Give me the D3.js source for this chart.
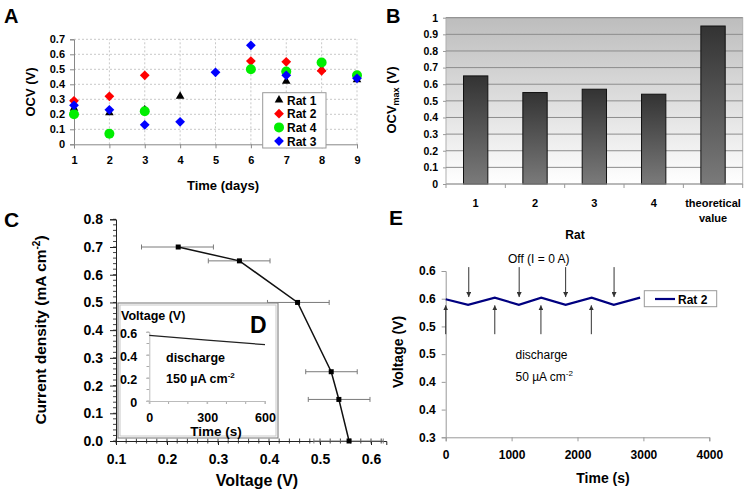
<!DOCTYPE html>
<html>
<head>
<meta charset="utf-8">
<script src="https://cdn.jsdelivr.net/npm/d3@7/dist/d3.min.js"></script>
<style>
  body { margin: 0; background: #fff; }
  svg { display: block; font-family: Arial, "Liberation Sans", sans-serif; }
</style>
</head>
<body>
<svg id="fig" width="747" height="493"></svg>
<script>
// ---- panel A : OCV vs time, per rat ----
const daysA = [1, 2, 3, 4, 5, 6, 7, 8, 9]
const ticksA = [0, 0.1, 0.2, 0.3, 0.4, 0.5, 0.6, 0.7]
const rat1 = [[1, 0.24], [2, 0.21], [3, 0.23], [4, 0.32], [7, 0.42], [8, 0.50], [9, 0.43]]
const rat2 = [[1, 0.29], [2, 0.32], [3, 0.46], [6, 0.555], [7, 0.55], [8, 0.49]]
const rat4 = [[1, 0.20], [2, 0.07], [3, 0.22], [6, 0.50], [7, 0.485], [8, 0.545], [9, 0.46]]
const rat3 = [[1, 0.26], [2, 0.23], [3, 0.13], [4, 0.15], [5, 0.48], [6, 0.66], [7, 0.46], [9, 0.44]]
const legendA = ['Rat 1', 'Rat 2', 'Rat 4', 'Rat 3']

// ---- panel B : max OCV ----
const catsB = ['1', '2', '3', '4', 'theoretical\nvalue']
const ocvMax = [0.65, 0.55, 0.57, 0.54, 0.95]
const ticksB = [0, 0.1, 0.2, 0.3, 0.4, 0.5, 0.6, 0.7, 0.8, 0.9, 1]

// ---- panel C : polarisation curve ----
const voltC = [0.222, 0.342, 0.456, 0.522, 0.537, 0.557]
const currC = [0.70, 0.65, 0.50, 0.25, 0.15, 0.0]
const errLowC = [0.150, 0.281, 0.397, 0.472, 0.477, 0.488]
const errHighC = [0.291, 0.402, 0.518, 0.573, 0.598, 0.624]
const ticksCx = [0.1, 0.2, 0.3, 0.4, 0.5, 0.6]
const ticksCy = [0, 0.1, 0.2, 0.3, 0.4, 0.5, 0.6, 0.7, 0.8]

// ---- panel D (inset) : discharge at 150 uA cm-2 ----
const timeD = [0, 300, 600]
const voltD = [0.57, 0.53, 0.49]
const ticksDx = [0, 300, 600]
const ticksDy = [0, 0.2, 0.4, 0.6]

// ---- panel E : on/off cycling ----
const timeE = [0, 340, 745, 1110, 1450, 1820, 2215, 2550, 2950]
const voltE = [0.549, 0.539, 0.552, 0.539, 0.552, 0.539, 0.552, 0.539, 0.552]
const offTimes = [350, 1115, 1820, 2555]
const onTimes = [0, 745, 1445, 2210]
const ticksEx = [0, 1000, 2000, 3000, 4000]
const ticksEy = [0.3, 0.35, 0.4, 0.45, 0.5, 0.55, 0.6]
const tickLabelsEy = ['0.3', '0.4', '0.4', '0.5', '0.5', '0.6', '0.6']

const svg = d3.select('#fig')
const defs = svg.append('defs')

function label(g, x, y, txt, size, opts = {}) {
    return g.append('text')
        .attr('x', x).attr('y', y)
        .attr('font-size', size)
        .attr('font-weight', opts.weight || 'bold')
        .attr('text-anchor', opts.anchor || 'start')
        .attr('fill', opts.fill || '#000')
        .text(txt)
}

function styleAxis(g, color, size) {
    g.select('.domain').attr('stroke', color)
    g.selectAll('.tick line').attr('stroke', color)
    g.selectAll('.tick text').attr('font-size', size).attr('font-weight', 'bold')
        .attr('fill', '#000').attr('font-family', 'Arial, Liberation Sans, sans-serif')
}

// panel letters
label(svg, 4, 23, 'A', 20)
label(svg, 386, 23, 'B', 20)
label(svg, 4, 227, 'C', 21)
label(svg, 389, 225, 'E', 21)

// ================= A =================
{
    const x = d3.scaleLinear().domain([1, 9]).range([74, 357])
    const y = d3.scaleLinear().domain([0, 0.7]).range([144.3, 39.3])
    const g = svg.append('g')

    g.selectAll('.hg').data(ticksA.slice(1)).join('line')
        .attr('x1', x(1)).attr('x2', x(9))
        .attr('y1', d => y(d)).attr('y2', d => y(d))
        .attr('stroke', '#c8c8c8').attr('stroke-dasharray', '2,2')
    g.selectAll('.vg').data(daysA.slice(1)).join('line')
        .attr('x1', d => x(d)).attr('x2', d => x(d))
        .attr('y1', y(0)).attr('y2', y(0.7))
        .attr('stroke', '#c8c8c8').attr('stroke-dasharray', '2,2')

    const ax = g.append('g').attr('transform', `translate(0,${y(0)})`)
        .call(d3.axisBottom(x).tickValues(daysA).tickFormat(d3.format('d')).tickSize(4).tickPadding(8))
    styleAxis(ax, '#888', 11)
    const ay = g.append('g').attr('transform', `translate(${x(1)},0)`)
        .call(d3.axisLeft(y).tickValues(ticksA).tickFormat(d3.format('.1~f')).tickSize(4).tickPadding(5))
    styleAxis(ay, '#888', 11)

    const tri = d3.symbol(d3.symbolTriangle, 32)()
    const dia = d3.symbol(d3.symbolSquare, 48)()
    const series = [
        { data: rat1, color: '#000', shape: 'tri' },
        { data: rat2, color: '#ff0000', shape: 'dia' },
        { data: rat4, color: '#00ee00', shape: 'circ' },
        { data: rat3, color: '#0000ff', shape: 'dia' },
    ]
    series.forEach(s => {
        if (s.shape == 'circ') {
            g.selectAll(null).data(s.data).join('circle')
                .attr('cx', d => x(d[0])).attr('cy', d => y(d[1])).attr('r', 5)
                .attr('fill', s.color)
        } else {
            g.selectAll(null).data(s.data).join('path')
                .attr('d', s.shape == 'tri' ? tri : dia)
                .attr('transform', d => `translate(${x(d[0])},${y(d[1])})` + (s.shape == 'dia' ? ' rotate(45)' : ''))
                .attr('fill', s.color)
        }
    })

    // legend
    const lg = g.append('g')
    lg.append('rect').attr('x', 262.7).attr('y', 92.7).attr('width', 63.3).attr('height', 55.3)
        .attr('fill', '#fff').attr('stroke', '#999')
    legendA.forEach((name, i) => {
        const s = series[i]
        const cy = 100 + i * 13.7
        if (s.shape == 'circ') {
            lg.append('circle').attr('cx', 279).attr('cy', cy).attr('r', 5).attr('fill', s.color)
        } else {
            lg.append('path').attr('d', s.shape == 'tri' ? tri : dia)
                .attr('transform', `translate(279,${cy})` + (s.shape == 'dia' ? ' rotate(45)' : ''))
                .attr('fill', s.color)
        }
        label(lg, 287, cy + 4.5, name, 12)
    })

    label(g, 223, 190, 'Time (days)', 13, { anchor: 'middle' })
    label(g, 0, 0, 'OCV (V)', 13, { anchor: 'middle' })
        .attr('transform', 'translate(35,92) rotate(-90)')
}

// ================= B =================
{
    const x = d3.scaleBand().domain(catsB).range([446, 742.7])
    const y = d3.scaleLinear().domain([0, 1]).range([184, 17.7])
    const g = svg.append('g')

    const bg = defs.append('linearGradient').attr('id', 'bgB').attr('x1', 0).attr('y1', 0).attr('x2', 0).attr('y2', 1)
    bg.append('stop').attr('offset', 0).attr('stop-color', '#bdbdbd')
    bg.append('stop').attr('offset', 1).attr('stop-color', '#ffffff')
    const barGrad = defs.append('linearGradient').attr('id', 'barB').attr('x1', 0).attr('y1', 0).attr('x2', 0).attr('y2', 1)
    barGrad.append('stop').attr('offset', 0).attr('stop-color', '#333333')
    barGrad.append('stop').attr('offset', 1).attr('stop-color', '#7a7a7a')

    g.append('rect').attr('x', 446).attr('y', y(1)).attr('width', 742.7 - 446).attr('height', y(0) - y(1))
        .attr('fill', 'url(#bgB)').attr('stroke', '#b0b0b0')
    g.selectAll('.grid').data(ticksB.slice(1)).join('line')
        .attr('x1', 446).attr('x2', 742.7)
        .attr('y1', d => y(d)).attr('y2', d => y(d))
        .attr('stroke', '#8c8c8c')

    const bw = x.bandwidth() * 0.41
    g.selectAll('.bar').data(ocvMax).join('rect')
        .attr('x', (d, i) => x(catsB[i]) + x.bandwidth() / 2 - bw / 2)
        .attr('y', d => y(d))
        .attr('width', bw)
        .attr('height', d => y(0) - y(d))
        .attr('fill', 'url(#barB)').attr('stroke', '#111').attr('stroke-width', 1)

    const ay = g.append('g').attr('transform', 'translate(446,0)')
        .call(d3.axisLeft(y).tickValues(ticksB).tickFormat(d3.format('.1~f')).tickSize(3).tickPadding(5))
    styleAxis(ay, '#999', 10.5)
    ay.select('.domain').remove()

    // category boundary ticks
    const base = g.append('g')
    base.append('line').attr('x1', 446).attr('x2', 742.7).attr('y1', y(0)).attr('y2', y(0)).attr('stroke', '#999')
    base.selectAll(null).data(d3.range(catsB.length + 1)).join('line')
        .attr('x1', i => 446 + i * x.step()).attr('x2', i => 446 + i * x.step())
        .attr('y1', y(0)).attr('y2', y(0) + 4).attr('stroke', '#999')
    catsB.forEach(c => {
        c.split('\n').forEach((part, j) => {
            label(g, x(c) + x.bandwidth() / 2, 207 + j * 15, part, 11, { anchor: 'middle' })
        })
    })

    const yl = g.append('text').attr('transform', 'translate(396,100) rotate(-90)')
        .attr('text-anchor', 'middle').attr('font-weight', 'bold').attr('font-size', 13)
    yl.append('tspan').text('OCV')
    yl.append('tspan').attr('font-size', 9).attr('dy', 3).text('max')
    yl.append('tspan').attr('dy', -3).text(' (V)')
}

// ================= C =================
{
    const x = d3.scaleLinear().domain([0.1, 0.63]).range([116, 386.3])
    const y = d3.scaleLinear().domain([0, 0.8]).range([441, 219.3])
    const g = svg.append('g')

    // minor ticks
    g.selectAll('.my').data(d3.range(0, 0.801, 0.02)).join('line')
        .attr('x1', 113).attr('x2', 116).attr('y1', d => y(d)).attr('y2', d => y(d)).attr('stroke', '#444')
    g.selectAll('.mx').data(d3.range(0.1, 0.631, 0.02)).join('line')
        .attr('x1', d => x(d)).attr('x2', d => x(d)).attr('y1', 438.5).attr('y2', 443.5).attr('stroke', '#444')

    const ax = g.append('g').attr('transform', `translate(0,${y(0)})`)
        .call(d3.axisBottom(x).tickValues(ticksCx).tickFormat(d3.format('.1f')).tickSize(4).tickPadding(9))
    styleAxis(ax, '#222', 14)
    const ay = g.append('g').attr('transform', `translate(${x(0.1)},0)`)
        .call(d3.axisLeft(y).tickValues(ticksCy).tickFormat(d3.format('.1f')).tickSize(6).tickPadding(7))
    styleAxis(ay, '#222', 14)

    // error bars
    const eb = g.append('g').attr('stroke', '#7a7a7a').attr('stroke-width', 1)
    voltC.forEach((v, i) => {
        const yy = y(currC[i])
        eb.append('line').attr('x1', x(errLowC[i])).attr('x2', x(errHighC[i])).attr('y1', yy).attr('y2', yy)
        eb.append('line').attr('x1', x(errLowC[i])).attr('x2', x(errLowC[i])).attr('y1', yy - 2.5).attr('y2', yy + 2.5)
        eb.append('line').attr('x1', x(errHighC[i])).attr('x2', x(errHighC[i])).attr('y1', yy - 2.5).attr('y2', yy + 2.5)
    })

    const pts = voltC.map((v, i) => [v, currC[i]])
    g.append('path').datum(pts)
        .attr('d', d3.line().x(d => x(d[0])).y(d => y(d[1])))
        .attr('fill', 'none').attr('stroke', '#111').attr('stroke-width', 1.5)
    g.selectAll('.pt').data(pts).join('rect')
        .attr('x', d => x(d[0]) - 2.5).attr('y', d => y(d[1]) - 2.5)
        .attr('width', 5).attr('height', 5).attr('fill', '#000')

    label(g, 257, 486, 'Voltage (V)', 16, { anchor: 'middle' })
    const yl = g.append('text').attr('transform', 'translate(46,330) rotate(-90)')
        .attr('text-anchor', 'middle').attr('font-weight', 'bold').attr('font-size', 15.5)
    yl.append('tspan').text('Current density (mA cm')
    yl.append('tspan').attr('font-size', 10).attr('dy', -6).text('-2')
    yl.append('tspan').attr('dy', 6).text(')')

    // ---- inset D ----
    const d = svg.append('g')
    d.append('rect').attr('x', 118).attr('y', 303).attr('width', 160).attr('height', 135)
        .attr('fill', '#fff').attr('stroke', '#8a8a8a').attr('stroke-width', 1.2)
    d.append('rect').attr('x', 120).attr('y', 305).attr('width', 156).attr('height', 131)
        .attr('fill', 'none').attr('stroke', '#c8c8c8').attr('stroke-width', 1)
    const dx = d3.scaleLinear().domain([0, 600]).range([149.3, 265])
    const dy = d3.scaleLinear().domain([0, 0.6]).range([401, 332])
    d.selectAll('.dmy').data(d3.range(0, 0.61, 0.1)).join('line')
        .attr('x1', 146.5).attr('x2', 149.3).attr('y1', v => dy(v)).attr('y2', v => dy(v)).attr('stroke', '#aaa')
    d.selectAll('.dmx').data(d3.range(0, 601, 100)).join('line')
        .attr('x1', v => dx(v)).attr('x2', v => dx(v)).attr('y1', 401).attr('y2', 404).attr('stroke', '#aaa')
    const dax = d.append('g').attr('transform', 'translate(0,401)')
        .call(d3.axisBottom(dx).tickValues(ticksDx).tickSize(3).tickPadding(9).tickFormat(d3.format('d')))
    styleAxis(dax, '#bbb', 12.5)
    const day = d.append('g').attr('transform', 'translate(149.3,0)')
        .call(d3.axisLeft(dy).tickValues(ticksDy).tickSize(3).tickPadding(8).tickFormat(d3.format('.1~f')))
    styleAxis(day, '#bbb', 12.5)
    day.selectAll('.tick text').attr('x', -12).attr('text-anchor', 'end').attr('dy', '0.42em')
    d.append('path').datum(timeD.map((t, i) => [t, voltD[i]]))
        .attr('d', d3.line().x(p => dx(p[0])).y(p => dy(p[1])))
        .attr('fill', 'none').attr('stroke', '#222').attr('stroke-width', 1.2)
    label(d, 121, 320, 'Voltage (V)', 12.5)
    label(d, 250, 333, 'D', 23)
    label(d, 166, 362, 'discharge', 12.5)
    const t150 = label(d, 166, 383, '150 µA cm', 12.5)
    t150.append('tspan').attr('font-size', 8).attr('dy', -5).text('-2')
    label(d, 216, 436, 'Time (s)', 13.5, { anchor: 'middle' })
}

// ================= E =================
{
    const x = d3.scaleLinear().domain([0, 4000]).range([445.7, 709.3])
    const y = d3.scaleLinear().domain([0.3, 0.6]).range([437.3, 271])
    const g = svg.append('g')

    const ax = g.append('g').attr('transform', `translate(0,${y(0.3)})`)
        .call(d3.axisBottom(x).tickValues(ticksEx).tickFormat(d3.format('d')).tickSize(4).tickPadding(9))
    styleAxis(ax, '#999', 12)
    const ay = g.append('g').attr('transform', `translate(${x(0)},0)`)
        .call(d3.axisLeft(y).tickValues(ticksEy).tickFormat((d, i) => tickLabelsEy[i]).tickSize(4).tickPadding(6))
    styleAxis(ay, '#999', 12)

    const mk = defs.append('marker').attr('id', 'arr').attr('viewBox', '0 0 8 8')
        .attr('refX', 8).attr('refY', 4).attr('markerWidth', 5).attr('markerHeight', 5)
        .attr('orient', 'auto')
    mk.append('path').attr('d', 'M0,0 L8,4 L0,8 Z').attr('fill', '#333')

    g.selectAll('.off').data(offTimes).join('line')
        .attr('x1', t => x(t)).attr('x2', t => x(t))
        .attr('y1', y(0.607)).attr('y2', y(0.553))
        .attr('stroke', '#333').attr('stroke-width', 1).attr('marker-end', 'url(#arr)')
    g.selectAll('.on').data(onTimes).join('line')
        .attr('x1', t => x(t)).attr('x2', t => x(t))
        .attr('y1', y(0.486)).attr('y2', y(0.538))
        .attr('stroke', '#333').attr('stroke-width', 1).attr('marker-end', 'url(#arr)')

    g.append('path').datum(timeE.map((t, i) => [t, voltE[i]]))
        .attr('d', d3.line().x(p => x(p[0])).y(p => y(p[1])))
        .attr('fill', 'none').attr('stroke', '#000080').attr('stroke-width', 2.2)

    // legend
    g.append('rect').attr('x', 644.3).attr('y', 290.7).attr('width', 72.4).attr('height', 16)
        .attr('fill', '#fff').attr('stroke', '#999')
    g.append('line').attr('x1', 655).attr('x2', 675).attr('y1', 299).attr('y2', 299)
        .attr('stroke', '#000080').attr('stroke-width', 2.2)
    label(g, 678, 303.5, 'Rat 2', 12)

    label(g, 575, 239, 'Rat', 12, { anchor: 'middle' })
    label(g, 508, 262.5, 'Off (I = 0 A)', 12, { weight: 'normal' })
    label(g, 515.5, 359, 'discharge', 12, { weight: 'normal' })
    const t50 = label(g, 515.5, 380.5, '50 µA cm', 12, { weight: 'normal' })
    t50.append('tspan').attr('font-size', 8).attr('dy', -5).text('-2')

    label(g, 603, 483, 'Time (s)', 14, { anchor: 'middle' })
    label(g, 0, 0, 'Voltage (V)', 14, { anchor: 'middle' })
        .attr('transform', 'translate(403,352) rotate(-90)')
}
</script>
</body>
</html>
